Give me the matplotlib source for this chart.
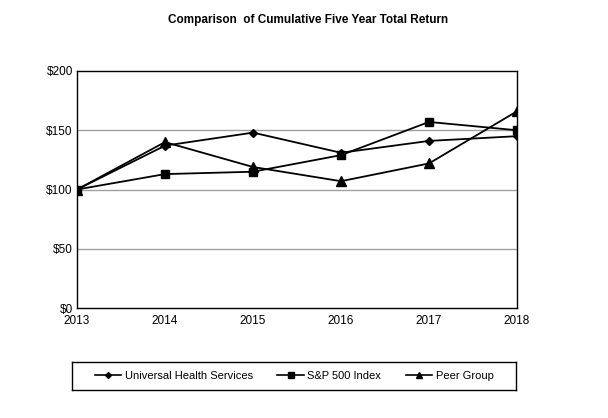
import matplotlib
matplotlib.use("Agg")
import matplotlib.pyplot as plt
from matplotlib.lines import Line2D

years = ["2013", "2014", "2015", "2016", "2017", "2018"]
uhs = [100, 137, 148, 131, 141, 145]
sp500 = [100, 113, 115, 129, 157, 150]
peer = [100, 140, 119, 107, 122, 166]
yticks = [0, 50, 100, 150, 200]
ytick_labels = ["$0", "$50", "$100", "$150", "$200"]

plt.rcParams['font.family'] = ['Liberation Sans', 'DejaVu Sans']

fig = plt.figure(figsize=(6.08, 4.18), dpi=100)
W, H = 608, 418
ax = fig.add_axes([77 / W, 1 - 308 / H, (517 - 77) / W, (308 - 71) / H])

x = list(range(len(years)))
ax.plot(x, uhs, color='black', lw=1.3, marker='D', ms=4.5, label='Universal Health Services')
ax.plot(x, sp500, color='black', lw=1.3, marker='s', ms=6, label='S&P 500 Index')
ax.plot(x, peer, color='black', lw=1.3, marker='^', ms=6.5, label='Peer Group')

ax.set_xlim(0, len(years) - 1)
ax.set_ylim(0, 200)
ax.set_xticks(x)
ax.set_xticklabels(years, fontsize=8.5)
ax.set_yticks(yticks)
ax.set_yticklabels(ytick_labels, fontsize=8.5)
ax.tick_params(axis='both', length=0, pad=3)
ax.tick_params(axis='x', pad=5)
for v in yticks[1:-1]:
    ax.axhline(v, color='#a0a0a0', lw=1.0, zorder=0)
for s in ax.spines.values():
    s.set_color('black')
    s.set_linewidth(1.0)

fig.text(308 / W, 1 - 20 / H, "Comparison  of Cumulative Five Year Total Return",
         ha='center', va='center', fontsize=8.5, fontweight='bold')

handles = [
    Line2D([], [], color='black', lw=1.2, marker='D', ms=3),
    Line2D([], [], color='black', lw=1.2, marker='s', ms=4),
    Line2D([], [], color='black', lw=1.2, marker='^', ms=4.5),
]
labels = ['Universal Health Services', 'S&P 500 Index', 'Peer Group']
lax = fig.add_axes([72 / W, 1 - 390 / H, (516 - 72) / W, (390 - 362) / H])
lax.set_xticks([]); lax.set_yticks([])
for s in lax.spines.values():
    s.set_color('black'); s.set_linewidth(1.0)
lax.legend(handles, labels, loc='center', ncol=3, frameon=False, fontsize=8,
           handlelength=2.4, columnspacing=2.2, handletextpad=0.3)

fig.savefig("out.png", dpi=100)
